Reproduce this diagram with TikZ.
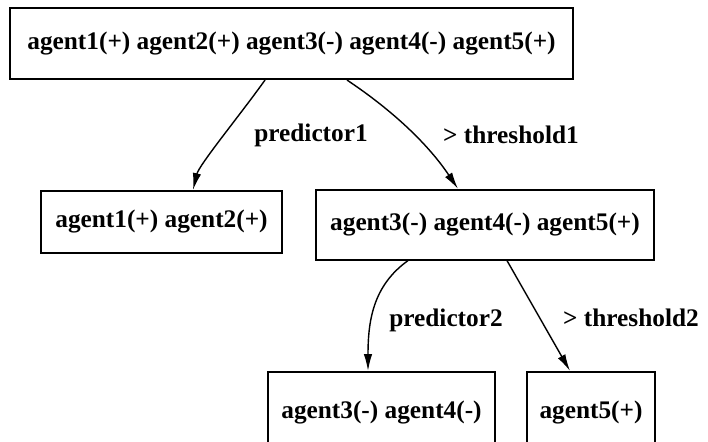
\documentclass[tikz,border=0pt]{standalone}
\usepackage{fontspec}
\setmainfont{Liberation Serif}
\usetikzlibrary{arrows.meta}

\tikzset{
	agentbox/.style={draw, line width=1.5pt, inner sep=0pt, font=\fontsize{18}{21}\selectfont\bfseries},
	lbl/.style={inner sep=1pt, font=\fontsize{18}{21}\selectfont\bfseries},
	split/.style={line width=1pt, -{Latex[length=12pt,width=6pt]}}
}

\begin{document}
\begin{tikzpicture}[x=0.025cm, y=-0.025cm]
		\clip (0, 0) rectangle (708, 441);
		\fill[white] (0, 0) rectangle (708, 441);

		\node[agentbox, minimum width=14.075cm, minimum height=1.775cm] (root) at (291.5, 43.5) {agent1(+) agent2(+) agent3(-) agent4(-) agent5(+)};

		\node[agentbox, minimum width=6.025cm, minimum height=1.55cm] (left1) at (161.5, 222) {agent1(+) agent2(+)};
		\node[agentbox, minimum width=8.45cm, minimum height=1.74cm] (right1) at (485, 224.75) {agent3(-) agent4(-) agent5(+)};

		\node[agentbox, minimum width=5.675cm, minimum height=2.05cm] (left2) at (381.5, 413) {agent3(-) agent4(-)};
		\node[agentbox, minimum width=3.2cm, minimum height=2.05cm] (right2) at (591, 413) {agent5(+)};

		\draw[split] ([xshift=-0.6625cm]root.south) .. controls +(-25, 35) and +(6, -25) .. ([xshift=0.7875cm]left1.north);
		\draw[split] ([xshift=1.3875cm]root.south) .. controls +(45, 30) and +(-30, -45) .. ([xshift=-0.675cm]right1.north);
		\draw[split] ([xshift=-1.925cm]right1.south) .. controls +(-35, 25) and +(0, -50) .. ([xshift=-0.3375cm]left2.north);
		\draw[split] ([xshift=0.55cm]right1.south) -- ([xshift=-0.525cm]right2.north);

		\node[lbl] (pred1) at (311, 135) {predictor1};
		\node[lbl] (thr1) at (511, 135) {> threshold1};
		\node[lbl] (pred2) at (446, 320) {predictor2};
		\node[lbl] (thr2) at (631, 318) {> threshold2};
	\end{tikzpicture}
\end{document}
